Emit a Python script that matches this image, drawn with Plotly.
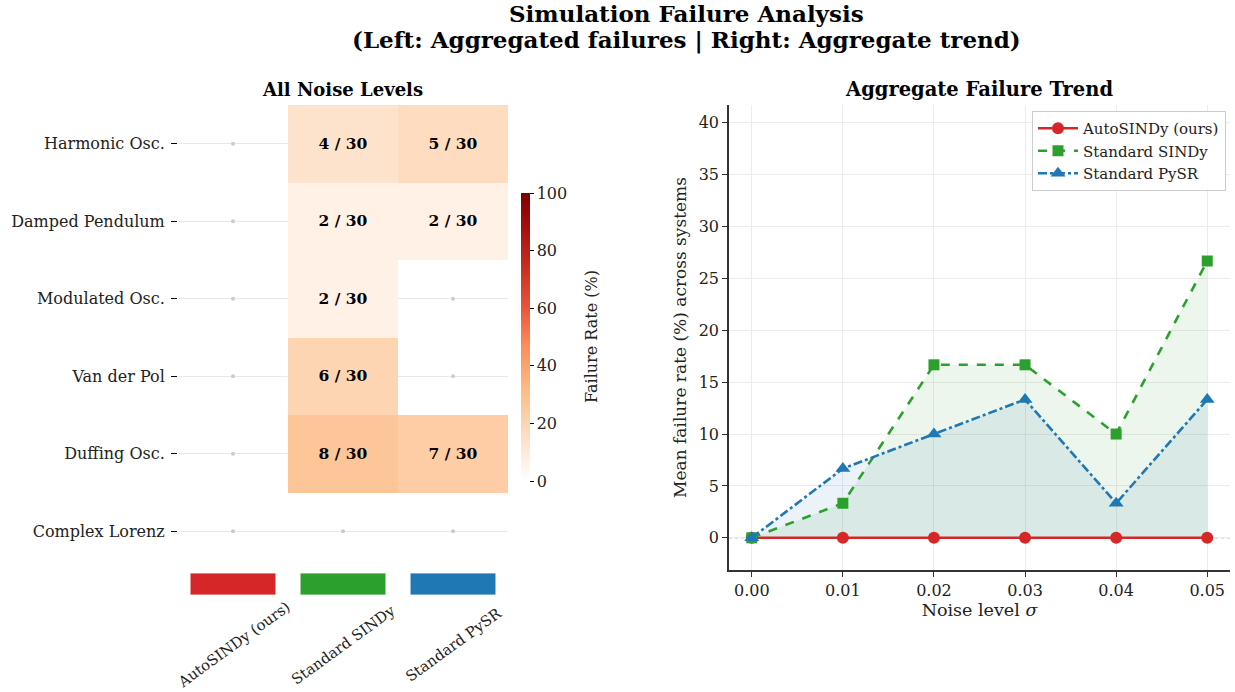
import plotly.graph_objects as go

# ---- data -------------------------------------------------------------
systems = ["Harmonic Osc.", "Damped Pendulum", "Modulated Osc.",
           "Van der Pol", "Duffing Osc.", "Complex Lorenz"]
methods = ["AutoSINDy (ours)", "Standard SINDy", "Standard PySR"]
method_colors = ["#d62728", "#2ca02c", "#1f77b4"]
n_trials = 30

# failed simulations per system, one list per method (same order as systems)
fail_autosindy = [0, 0, 0, 0, 0, 0]
fail_sindy = [4, 2, 2, 6, 8, 0]
fail_pysr = [5, 2, 0, 0, 7, 0]

noise_levels = [0.00, 0.01, 0.02, 0.03, 0.04, 0.05]
rate_autosindy = [0.0, 0.0, 0.0, 0.0, 0.0, 0.0]
rate_sindy = [0.0, 3.33, 16.67, 16.67, 10.0, 26.67]
rate_pysr = [0.0, 6.67, 10.0, 13.33, 3.33, 13.33]

FONT = "DejaVu Serif"
W, H = 1235, 692

# white -> orange -> dark red scale for the failure percentage
fail_scale = [
    [0.00, "#ffffff"],
    [0.32, "#fdbb84"],
    [0.47, "#fc8d59"],
    [0.60, "#e8553c"],
    [0.76, "#c52a1e"],
    [0.88, "#a50f0c"],
    [1.00, "#7f0000"],
]

fail_counts = [fail_autosindy, fail_sindy, fail_pysr]

# heatmap matrix: rows = systems, columns = methods; zero cells are masked
z, txt = [], []
dot_x, dot_y = [], []
for r, name in enumerate(systems):
    zr, tr = [], []
    for c in range(len(methods)):
        k = fail_counts[c][r]
        if k > 0:
            zr.append(100.0 * k / n_trials)
            tr.append(f"{k} / {n_trials}")
        else:
            zr.append(None)
            tr.append("")
            dot_x.append(c)
            dot_y.append(r)
    z.append(zr)
    txt.append(tr)

fig = go.Figure()

fig.add_trace(go.Heatmap(
    z=z, x=list(range(len(methods))), y=list(range(len(systems))),
    text=txt, texttemplate="<b>%{text}</b>",
    textfont=dict(family=FONT, size=15.5, color="black"),
    colorscale=fail_scale, zmin=0, zmax=100,
    hoverongaps=False, xaxis="x", yaxis="y",
    colorbar=dict(
        x=521 / W, xanchor="left", xpad=0, ypad=0,
        y=1 - 481 / H, yanchor="bottom",
        len=(481 - 193) / H, lenmode="fraction", thickness=9,
        outlinewidth=0, ticks="outside", ticklen=4, tickcolor="black",
        tickvals=[0, 20, 40, 60, 80, 100],
        tickfont=dict(family=FONT, size=16, color="#222"),
    ),
    showscale=True,
))

# small markers for cells without failures
fig.add_trace(go.Scatter(
    x=dot_x, y=dot_y, mode="markers",
    marker=dict(size=4, color="#cccccc"),
    xaxis="x", yaxis="y", showlegend=False, hoverinfo="skip",
))

# ---- right panel: aggregate trend --------------------------------------
fig.add_trace(go.Scatter(
    x=noise_levels, y=rate_sindy, mode="lines", fill="tozeroy",
    fillcolor="rgba(44,160,44,0.09)", line=dict(width=0),
    xaxis="x2", yaxis="y2", showlegend=False, hoverinfo="skip",
))
fig.add_trace(go.Scatter(
    x=noise_levels, y=rate_pysr, mode="lines", fill="tozeroy",
    fillcolor="rgba(31,119,180,0.09)", line=dict(width=0),
    xaxis="x2", yaxis="y2", showlegend=False, hoverinfo="skip",
))

series = [
    (methods[0], rate_autosindy, method_colors[0], "solid", "circle", 12),
    (methods[1], rate_sindy, method_colors[1], "dash", "square", 11),
    (methods[2], rate_pysr, method_colors[2], "dashdot", "triangle-up", 13),
]
for name, vals, col, dash, sym, ms in series:
    fig.add_trace(go.Scatter(
        x=noise_levels, y=vals, mode="lines+markers", name=name,
        line=dict(color=col, width=2.6, dash=dash),
        marker=dict(symbol=sym, size=ms, color=col),
        xaxis="x2", yaxis="y2",
    ))

# ---- shapes: method colour patches under heatmap, zero reference line ---
shapes = []
for i, col in enumerate(method_colors):
    shapes.append(dict(
        type="rect", xref="x", yref="paper",
        x0=i - 0.39, x1=i + 0.39, y0=1 - 595 / H, y1=1 - 573 / H,
        fillcolor=col, line=dict(width=0.8, color="white"),
    ))
shapes.append(dict(
    type="line", xref="x2 domain", yref="y2", x0=0, x1=1, y0=0, y1=0,
    line=dict(color="#999999", width=1, dash="dot"), layer="below",
))


def note(x, y, text, size, angle=0, color="#222"):
    return dict(x=x, y=y, xref="paper", yref="paper", text=text,
                showarrow=False, textangle=angle,
                xanchor="center", yanchor="middle",
                font=dict(family=FONT, size=size, color=color))


annotations = []
for i, m in enumerate(methods):
    annotations.append(dict(
        x=i, xref="x", y=1 - 644 / H, yref="paper", text=m,
        showarrow=False, textangle=-36, xanchor="center", yanchor="middle",
        font=dict(family=FONT, size=14.8, color="#222"),
    ))
annotations += [
    note(592 / W, 1 - 337 / H, "Failure Rate (%)", 16, angle=-90),
    note(342 / W, 1 - 89 / H, "<b>All Noise Levels</b>", 18, color="black"),
    note(979 / W, 1 - 89 / H, "<b>Aggregate Failure Trend</b>", 19.5,
         color="black"),
    note(0.5555, 1 - 14 / H, "<b>Simulation Failure Analysis</b>", 23,
         color="black"),
    note(0.5555, 1 - 40 / H,
         "<b>(Left: Aggregated failures | Right: Aggregate trend)</b>", 23,
         color="black"),
]

y_dom = [1 - 570 / H, 1 - 105 / H]
tick_font = dict(family=FONT, size=16, color="#222")

fig.update_layout(
    width=W, height=H,
    margin=dict(l=0, r=0, t=0, b=0),
    paper_bgcolor="white", plot_bgcolor="white",
    font=dict(family=FONT, color="#222"),
    shapes=shapes, annotations=annotations,
    xaxis=dict(
        domain=[178 / W, 508 / W], range=[-0.5, 2.5],
        showticklabels=False, ticks="", showgrid=False, zeroline=False,
        showline=False,
    ),
    yaxis=dict(
        domain=y_dom, range=[5.5, -0.5],
        tickvals=list(range(len(systems))), ticktext=systems,
        ticks="outside", ticklen=6, tickcolor="black", tickwidth=1.2,
        ticklabelstandoff=3,
        tickfont=tick_font, showgrid=True, gridcolor="#e8e8e8",
        gridwidth=1, zeroline=False, showline=False,
    ),
    xaxis2=dict(
        domain=[729 / W, 1230 / W], range=[-0.0025, 0.0525],
        anchor="y2", tickvals=noise_levels,
        ticktext=[f"{v:.2f}" for v in noise_levels],
        ticks="outside", ticklen=5, tickcolor="#333",
        tickfont=tick_font, showgrid=True, gridcolor="#ececec",
        zeroline=False, showline=True, linecolor="#333", linewidth=1.5,
        title=dict(text="Noise level <i>σ</i>",
                   font=dict(family=FONT, size=17.5, color="#222"), standoff=4),
    ),
    yaxis2=dict(
        domain=y_dom, range=[-3.1, 41.7], anchor="x2",
        tickvals=[0, 5, 10, 15, 20, 25, 30, 35, 40],
        ticks="outside", ticklen=5, tickcolor="#333",
        tickfont=tick_font, showgrid=True, gridcolor="#ececec",
        zeroline=False, showline=True, linecolor="#333", linewidth=1.5,
        title=dict(text="Mean failure rate (%) across systems",
                   font=dict(family=FONT, size=17, color="#222"), standoff=8),
    ),
    legend=dict(
        x=1226 / W, xanchor="right", y=1 - 111 / H, yanchor="top",
        bgcolor="rgba(255,255,255,0.9)", bordercolor="#cccccc",
        borderwidth=1, font=dict(family=FONT, size=15, color="#222"),
        itemwidth=40, tracegroupgap=0,
    ),
)

fig.write_html("out.html")
